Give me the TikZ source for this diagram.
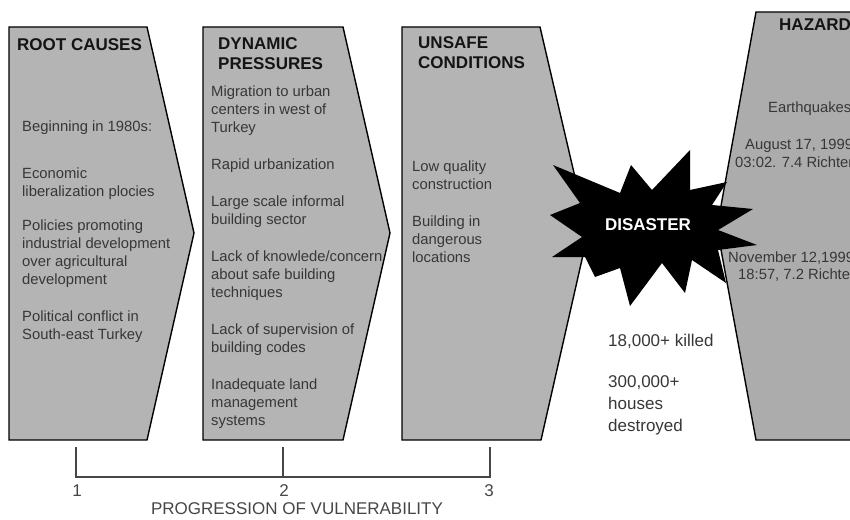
\documentclass[tikz,border=0pt]{standalone}
\usepackage{fontspec}
\setmainfont{Liberation Sans}
\usetikzlibrary{positioning}

\definecolor{panelgray}{RGB}{180,180,180}
\definecolor{hazardgray}{RGB}{172,172,172}
\definecolor{bodytext}{RGB}{55,55,55}
\definecolor{headtext}{RGB}{20,20,20}
\definecolor{scalegray}{RGB}{70,70,70}

\tikzset{
	panel/.style    = {draw=black, line width=1.4pt, fill=panelgray, line join=miter},
	hazardpanel/.style = {panel, fill=hazardgray},
	burst/.style    = {fill=black, draw=none},
	headtxt/.style  = {font=\fontsize{17}{20}\selectfont\bfseries, text=headtext, align=left, inner sep=0pt, anchor=north west},
	bodytxt/.style  = {font=\fontsize{14.8}{18}\selectfont, text=bodytext, align=left, inner sep=0pt, anchor=north west},
	losstxt/.style  = {font=\fontsize{17}{22}\selectfont, text=bodytext, align=left, inner sep=0pt, anchor=north west},
	scaletxt/.style = {font=\fontsize{17}{20}\selectfont, text=scalegray, inner sep=0pt},
	scaleline/.style = {draw=scalegray, line width=1.5pt},
}

\begin{document}
\begin{tikzpicture}[x=1pt, y=-1pt]

	\clip (0,0) rectangle (850,519);

	% the three pressure panels
	\draw [panel]   (  9,27) -- (147,27) -- (194,233) -- (147,440) -- (  9,440) -- cycle;
	\draw [panel]   (203,27) -- (343,27) -- (390,233) -- (343,440) -- (203,440) -- cycle;
	\draw [panel]   (402,27) -- (540,27) -- (588,233) -- (541,440) -- (402,440) -- cycle;
	\draw [hazardpanel] (756,12) -- (870,12) -- (870,440) -- (756,440) -- (717,228) -- cycle;

	% disaster burst
	\fill [burst] (553,165) -- (620,193) -- (631,165) -- (652,190) -- (690,150) -- (690,190)
	              -- (727,182) -- (712,205) -- (753,209) -- (718,230) -- (757,245) -- (718,250)
	              -- (726,283) -- (692,260) -- (685,293) -- (662,263) -- (630,306) -- (620,268)
	              -- (595,277) -- (585,257) -- (552,257) -- (582,237) -- (550,215) -- (580,203) -- cycle;
	\node (disaster) [font=\fontsize{17}{20}\selectfont\bfseries, text=white, inner sep=0pt] at (648,225) {DISASTER};

	% root causes
	\node (rootHead) [headtxt] at ( 17, 38.6) {ROOT CAUSES};
	\node (rootA)    [bodytxt] at ( 22,121) {Beginning in 1980s:};
	\node (rootB)    [bodytxt] at ( 22,168) {Economic\\liberalization plocies};
	\node (rootC)    [bodytxt] at ( 22,220) {Policies promoting\\industrial development\\over agricultural\\development};
	\node (rootD)    [bodytxt] at ( 22,311) {Political conflict in\\South-east Turkey};

	% dynamic pressures
	\node (dynHead)  [headtxt] at (218, 37) {DYNAMIC\\PRESSURES};
	\node (dynA)     [bodytxt] at (211, 86) {Migration to urban\\centers in west of\\Turkey};
	\node (dynB)     [bodytxt] at (211,159) {Rapid urbanization};
	\node (dynC)     [bodytxt] at (211,196) {Large scale informal\\building sector};
	\node (dynD)     [bodytxt] at (211,251) {Lack of knowlede/concern\\about safe building\\techniques};
	\node (dynE)     [bodytxt] at (211,324) {Lack of supervision of\\building codes};
	\node (dynF)     [bodytxt] at (211,379) {Inadequate land\\management\\systems};

	% unsafe conditions
	\node (unsHead)  [headtxt] at (418, 36) {UNSAFE\\CONDITIONS};
	\node (unsA)     [bodytxt] at (412,161) {Low quality\\construction};
	\node (unsB)     [bodytxt] at (412,216) {Building in\\dangerous\\locations};

	% hazard
	\node (hazHead)  [headtxt] at (779, 18.6) {HAZARD};
	\node (hazA)     [bodytxt] at (768,102) {Earthquakes};
	\node (hazB)     [bodytxt] at (745,139) {August 17, 1999};
	\node (hazC)     [bodytxt] at (735,157) {03:02. 7.4 Richter};
	\node (hazD)     [bodytxt] at (728,252) {November 12,1999};
	\node (hazE)     [bodytxt] at (738,269) {18:57, 7.2 Richter};

	% losses
	\node (lossA)    [losstxt] at (608,334) {18,000+ killed};
	\node (lossB)    [losstxt] at (608,375) {300,000+\\houses\\destroyed};

	% progression scale
	\coordinate (tickA) at ( 76,447);
	\coordinate (tickB) at (283,447);
	\coordinate (tickC) at (490,447);
	\coordinate (footA) at ( 76,477);
	\coordinate (footB) at (283,477);
	\coordinate (footC) at (490,477);
	\draw [scaleline] (tickA) -- (footA) -- (footC) -- (tickC);
	\draw [scaleline] (tickB) -- (footB);
	\node (numA) [scaletxt] at ( 77,491) {1};
	\node (numB) [scaletxt] at (284,491) {2};
	\node (numC) [scaletxt] at (489,491) {3};
	\node (progress) [scaletxt] at (297,509) {PROGRESSION OF VULNERABILITY};

\end{tikzpicture}
\end{document}
